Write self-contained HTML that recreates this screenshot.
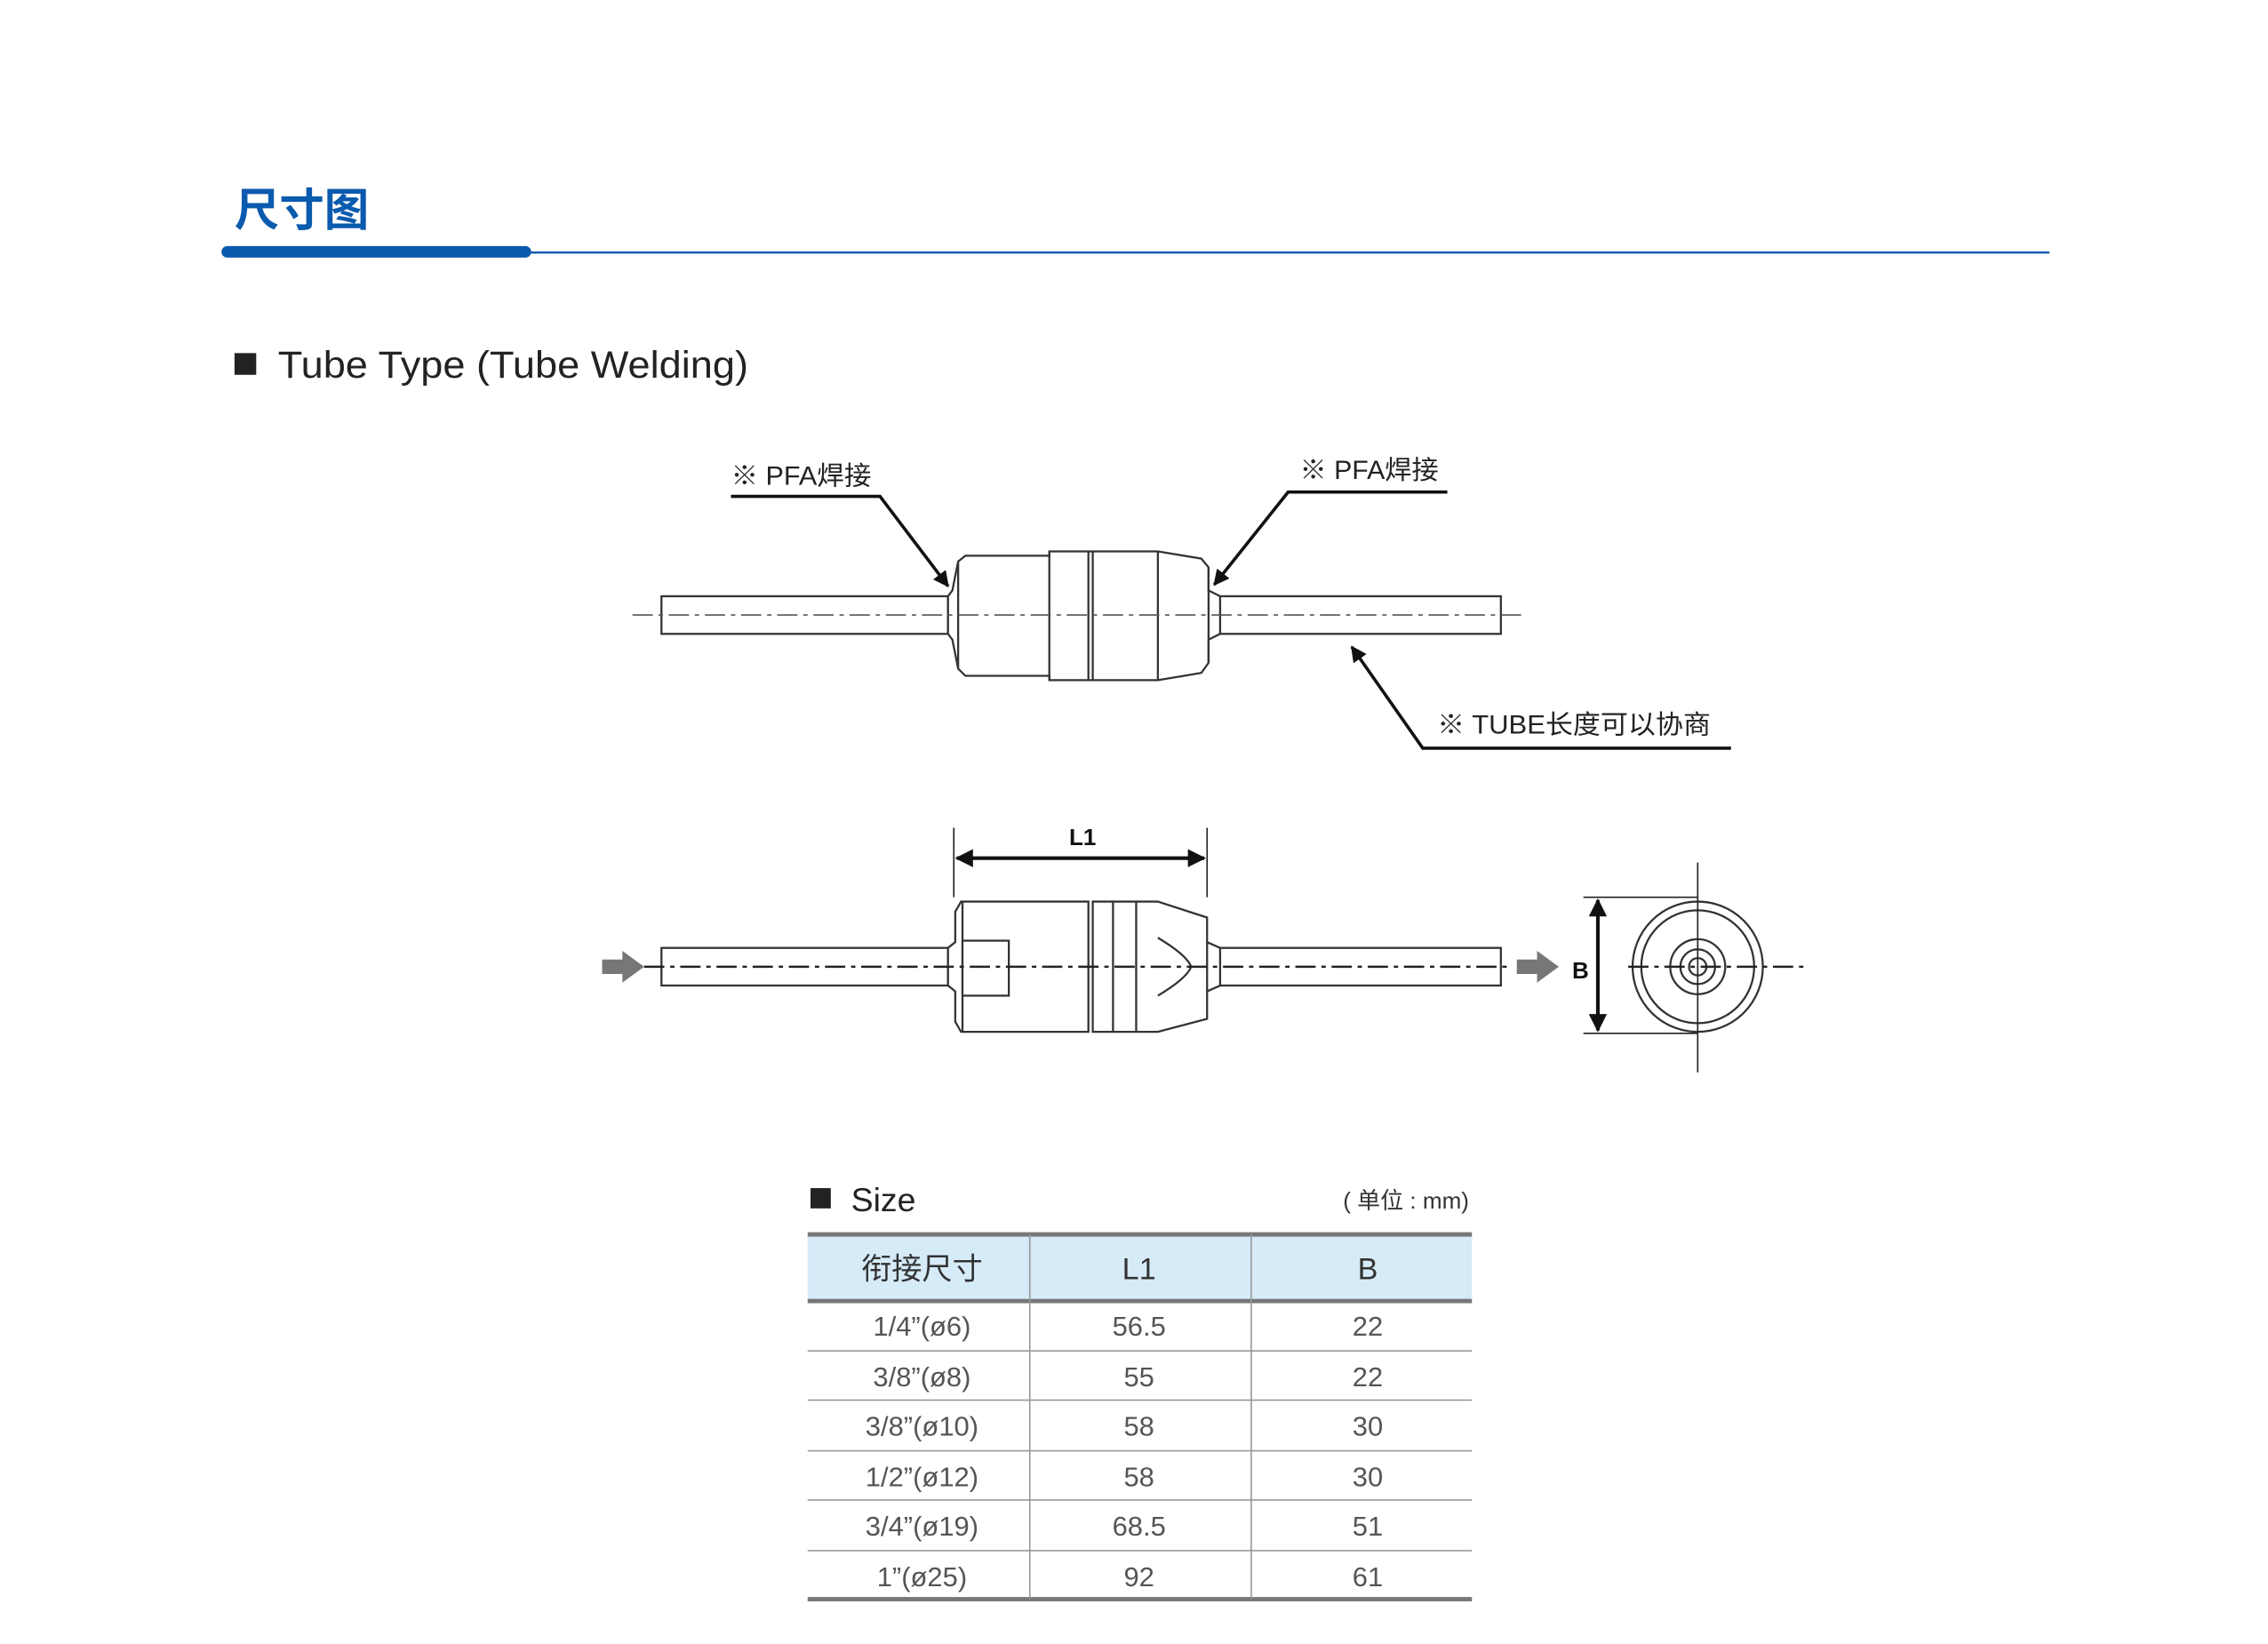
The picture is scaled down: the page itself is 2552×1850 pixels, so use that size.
<!DOCTYPE html>
<html><head><meta charset="utf-8"><style>
html,body{margin:0;padding:0;background:#fff;}
svg{display:block;}
text{font-family:"Liberation Sans","Noto Sans CJK SC",sans-serif;}
</style></head><body>
<svg width="2552" height="1850" viewBox="0 0 1567 1136" xmlns="http://www.w3.org/2000/svg">
<defs>
<marker id="ah" viewBox="0 0 10 10" refX="9" refY="5" markerWidth="5" markerHeight="5" orient="auto-start-reverse"><path d="M0,0 L10,5 L0,10 z" fill="#111"/></marker>
</defs>
<text x="162" y="156" font-size="31" font-weight="bold" fill="#0a5aad">尺寸图</text>
<rect x="153" y="170" width="214" height="8" rx="4" fill="#0a5aad"/>
<line x1="366" y1="174.5" x2="1416" y2="174.5" stroke="#0a5aad" stroke-width="1.5"/>
<rect x="162" y="244" width="15" height="15" fill="#222"/>
<text x="192" y="261" font-size="26" fill="#222" textLength="325" lengthAdjust="spacingAndGlyphs">Tube Type (Tube Welding)</text>

<g stroke="#333" stroke-width="1.4" fill="#fff">
<rect x="457" y="412" width="198" height="26"/>
<rect x="843" y="412" width="194" height="26"/>
<path d="M655,412 L658,408 L662,388 L667,384 L725,384 L725,381 L800,381 L830,386 L835,392 L835,408 L843,412 L843,438 L835,442 L835,458 L830,465 L800,470 L725,470 L725,467 L667,467 L662,462 L658,442 L655,438 Z"/>
<line x1="662" y1="388" x2="662" y2="462"/>
<line x1="725" y1="381" x2="725" y2="470"/>
<line x1="752" y1="381" x2="752" y2="470"/>
<line x1="755" y1="381" x2="755" y2="470"/>
<line x1="800" y1="381" x2="800" y2="470"/>
<line x1="835" y1="392" x2="835" y2="458"/>
<rect x="457" y="655" width="198" height="26"/>
<rect x="843" y="655" width="194" height="26"/>
<path d="M655,655 L660,651 L660,630 L664,623 L752,623 L752,713 L664,713 L660,706 L660,685 L655,681 Z"/>
<path d="M755,623 L800,623 L834,634 L834,704 L800,713 L755,713 Z"/>
<line x1="834" y1="651" x2="843" y2="655"/>
<line x1="834" y1="685" x2="843" y2="681"/>
<line x1="665" y1="623" x2="665" y2="713"/>
<line x1="769" y1="623" x2="769" y2="713"/>
<line x1="785" y1="623" x2="785" y2="713"/>
<rect x="665" y="650" width="32" height="38"/>
<path d="M800,648 Q820,660 823,668 Q820,676 800,688" fill="none"/>
<circle cx="1173" cy="668" r="45"/>
<circle cx="1173" cy="668" r="39"/>
<circle cx="1173" cy="668" r="19"/>
<circle cx="1173" cy="668" r="12"/>
<circle cx="1173" cy="668" r="6"/>
</g>
<g stroke="#555" stroke-width="1" stroke-dasharray="14,4,3,4" fill="none">
<line x1="437" y1="425" x2="1053" y2="425"/>
<line x1="445" y1="668" x2="1045" y2="668" stroke="#222" stroke-width="1.5"/>
<line x1="1125" y1="668" x2="1246" y2="668" stroke="#222" stroke-width="1.5"/>
</g>
<g stroke="#222" stroke-width="1" fill="none">
<line x1="1173" y1="596" x2="1173" y2="741"/>
<line x1="659" y1="572" x2="659" y2="620"/>
<line x1="834" y1="572" x2="834" y2="620"/>
<line x1="1094" y1="620" x2="1173" y2="620"/>
<line x1="1094" y1="714" x2="1173" y2="714"/>
</g>
<line x1="661" y1="593" x2="832" y2="593" stroke="#111" stroke-width="2.5" marker-start="url(#ah)" marker-end="url(#ah)"/>
<line x1="1104" y1="622" x2="1104" y2="712" stroke="#111" stroke-width="2.5" marker-start="url(#ah)" marker-end="url(#ah)"/>
<text x="748" y="584" font-size="16" font-weight="bold" text-anchor="middle" fill="#111">L1</text>
<text x="1092" y="676" font-size="16" font-weight="bold" text-anchor="middle" fill="#111">B</text>
<path d="M416,663 L430,663 L430,657 L445,668 L430,679 L430,673 L416,673 Z" fill="#777"/>
<path d="M1048,663 L1062,663 L1062,657 L1077,668 L1062,679 L1062,673 L1048,673 Z" fill="#777"/>
<g font-size="18" fill="#222">
<text x="505" y="335" textLength="97" lengthAdjust="spacingAndGlyphs">※ PFA焊接</text>
<text x="898" y="331" textLength="96" lengthAdjust="spacingAndGlyphs">※ PFA焊接</text>
<text x="993" y="507" textLength="189" lengthAdjust="spacingAndGlyphs">※ TUBE长度可以协商</text>
</g>
<g stroke="#111" stroke-width="2.2" fill="none">
<polyline points="505,343 608,343 655,405" marker-end="url(#ah)"/>
<polyline points="1000,340 890,340 839,404" marker-end="url(#ah)"/>
<polyline points="1196,517 983,517 934,447" marker-end="url(#ah)"/>
</g>
<rect x="560" y="821" width="14" height="14" fill="#222"/>
<text x="588" y="837" font-size="23" fill="#222">Size</text>
<text x="1015" y="835" font-size="16" fill="#333" text-anchor="end">( 单位 : mm)</text>
<rect x="558" y="853" width="459" height="46" fill="#d6ebf8"/>
<g stroke="#777" stroke-width="3">
<line x1="558" y1="853" x2="1017" y2="853"/>
<line x1="558" y1="899" x2="1017" y2="899"/>
<line x1="558" y1="1105" x2="1017" y2="1105"/>
</g>
<g stroke="#999" stroke-width="1">
<line x1="558" y1="933.5" x2="1017" y2="933.5"/>
<line x1="558" y1="967.5" x2="1017" y2="967.5"/>
<line x1="558" y1="1002.5" x2="1017" y2="1002.5"/>
<line x1="558" y1="1036.5" x2="1017" y2="1036.5"/>
<line x1="558" y1="1071.5" x2="1017" y2="1071.5"/>
<line x1="711.5" y1="853" x2="711.5" y2="1105"/>
<line x1="864.5" y1="853" x2="864.5" y2="1105"/>
</g>
<g font-size="21" fill="#333" text-anchor="middle">
<text x="637" y="884">衔接尺寸</text><text x="787" y="884">L1</text><text x="945" y="884">B</text>
</g>
<g font-size="19" fill="#555" text-anchor="middle">
<text x="637" y="923">1/4”(ø6)</text><text x="787" y="923">56.5</text><text x="945" y="923">22</text>
<text x="637" y="958">3/8”(ø8)</text><text x="787" y="958">55</text><text x="945" y="958">22</text>
<text x="637" y="992">3/8”(ø10)</text><text x="787" y="992">58</text><text x="945" y="992">30</text>
<text x="637" y="1027">1/2”(ø12)</text><text x="787" y="1027">58</text><text x="945" y="1027">30</text>
<text x="637" y="1061">3/4”(ø19)</text><text x="787" y="1061">68.5</text><text x="945" y="1061">51</text>
<text x="637" y="1096">1”(ø25)</text><text x="787" y="1096">92</text><text x="945" y="1096">61</text>
</g>
</svg>
</body></html>
